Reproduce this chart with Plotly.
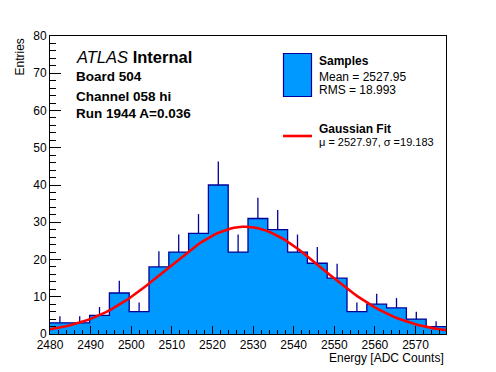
import numpy as np
import plotly.graph_objects as go

# ---- data ----
bin_low = 2480.0
bin_width = 4.875
counts = [3, 3, 5, 11, 6, 18, 22, 27, 40, 22, 31, 28, 22, 19, 15, 6, 8, 7, 4, 2]
fit_mu = 2527.97
fit_sigma = 19.183
fit_const = 28.8
x_ticks = [2480, 2490, 2500, 2510, 2520, 2530, 2540, 2550, 2560, 2570]
y_ticks = [0, 10, 20, 30, 40, 50, 60, 70, 80]
info_lines = ["Board 504", "Channel 058 hi", "Run 1944 A=0.036"]
samples_stats = ["Mean = 2527.95", "RMS = 18.993"]
fit_label = "\u03bc = 2527.97, \u03c3 =19.183"

# ---- derived ----
n = len(counts)
edges = bin_low + bin_width * np.arange(n + 1)
centers = edges[:-1] + bin_width / 2
x_hi = edges[-1]
errs = np.sqrt(np.array(counts, dtype=float))

FILL = "#0099ff"
NAVY = "#000099"
FONT = "Liberation Sans, Arial, Helvetica, sans-serif"

# page is offset by the 8px body margin; plot area wanted at these page pixels
OFF = 8
PAGE_W, PAGE_H = 496, 372
L, R, T, B = 50, 446, 36, 334
pw, ph = R - L, B - T
W, H = PAGE_W - OFF, PAGE_H - OFF


def px(xp):
    return (xp - L) / pw


def py(yp):
    return (B - yp) / ph


fig = go.Figure()

# histogram fill + outline
fig.add_trace(go.Scatter(
    x=list(edges), y=counts + [counts[-1]],
    mode="lines", line=dict(shape="hv", color=NAVY, width=1.3),
    fill="tozeroy", fillcolor=FILL, hoverinfo="skip", showlegend=False))

# error bars (upper part visible)
fig.add_trace(go.Scatter(
    x=centers, y=counts, mode="markers",
    marker=dict(size=1, color="rgba(0,0,0,0)"),
    error_y=dict(type="data", symmetric=False, array=errs,
                 arrayminus=np.zeros(n), width=0, thickness=1.3, color=NAVY),
    hoverinfo="skip", showlegend=False))

# gaussian fit
xf = np.linspace(bin_low, x_hi, 100)
yf = fit_const * np.exp(-0.5 * ((xf - fit_mu) / fit_sigma) ** 2)
fig.add_trace(go.Scatter(x=xf, y=yf, mode="lines",
                         line=dict(color="#ff0000", width=2.6),
                         hoverinfo="skip", showlegend=False))

annotations = []
shapes = []

# ATLAS label
annotations.append(dict(x=px(74), y=py(57), xref="paper", yref="paper",
                        xanchor="left", yanchor="middle", showarrow=False,
                        text="<i>ATLAS</i> <b>Internal</b>",
                        font=dict(size=16.5, color="black", family=FONT)))
for txt, yy in zip(info_lines, [76, 96, 114]):
    annotations.append(dict(x=px(74), y=py(yy), xref="paper", yref="paper",
                            xanchor="left", yanchor="middle", showarrow=False,
                            text="<b>%s</b>" % txt,
                            font=dict(size=13.5, color="black", family=FONT)))

# legend
shapes.append(dict(type="rect", xref="paper", yref="paper",
                   x0=px(283.5), x1=px(311.5), y0=py(96.5), y1=py(53.5),
                   fillcolor=FILL, line=dict(color=NAVY, width=1.2)))
shapes.append(dict(type="line", xref="paper", yref="paper",
                   x0=px(283), x1=px(312), y0=py(136), y1=py(136),
                   line=dict(color="#ff0000", width=2.6)))
leg_items = [("<b>Samples</b>", 61, 12), (samples_stats[0], 77, 12),
             (samples_stats[1], 90, 12),
             ("<b>Gaussian Fit</b>", 129, 12), (fit_label, 142, 11)]
for txt, yy, fs in leg_items:
    annotations.append(dict(x=px(317), y=py(yy), xref="paper", yref="paper",
                            xanchor="left", yanchor="middle", showarrow=False,
                            text=txt, font=dict(size=fs, color="black", family=FONT)))

# axis titles
annotations.append(dict(x=px(446), y=py(358), xref="paper", yref="paper",
                        xanchor="right", yanchor="middle", showarrow=False,
                        text="Energy [ADC Counts]",
                        font=dict(size=12, color="black", family=FONT)))
annotations.append(dict(x=px(19), y=py(37), xref="paper", yref="paper",
                        xanchor="center", yanchor="top", showarrow=False,
                        textangle=-90, text="Entries",
                        font=dict(size=12, color="black", family=FONT)))

fig.update_layout(
    width=W, height=H,
    margin=dict(l=L - OFF, r=W - (R - OFF), t=T - OFF, b=H - (B - OFF), pad=0),
    paper_bgcolor="white", plot_bgcolor="white",
    font=dict(family=FONT, size=12, color="black"),
    showlegend=False,
    annotations=annotations, shapes=shapes,
    xaxis=dict(range=[bin_low, x_hi], tickmode="array", tickvals=x_ticks,
               ticktext=[str(v) for v in x_ticks],
               ticks="inside", ticklen=8, tickwidth=1, tickcolor="black",
               minor=dict(ticks="inside", ticklen=4, dtick=2, tick0=bin_low,
                          tickcolor="black", tickwidth=1),
               showline=True, linecolor="black", linewidth=1, mirror=True,
               showgrid=False, zeroline=False,
               tickfont=dict(size=12, family=FONT, color="black")),
    yaxis=dict(range=[0, 80], tickmode="array", tickvals=y_ticks,
               ticktext=[str(v) for v in y_ticks],
               ticks="inside", ticklen=11, tickwidth=1, tickcolor="black",
               minor=dict(ticks="inside", ticklen=5.5, dtick=2, tick0=0,
                          tickcolor="black", tickwidth=1),
               showline=True, linecolor="black", linewidth=1, mirror=True,
               showgrid=False, zeroline=False,
               tickfont=dict(size=12, family=FONT, color="black")),
)

fig.write_html("out.html")
